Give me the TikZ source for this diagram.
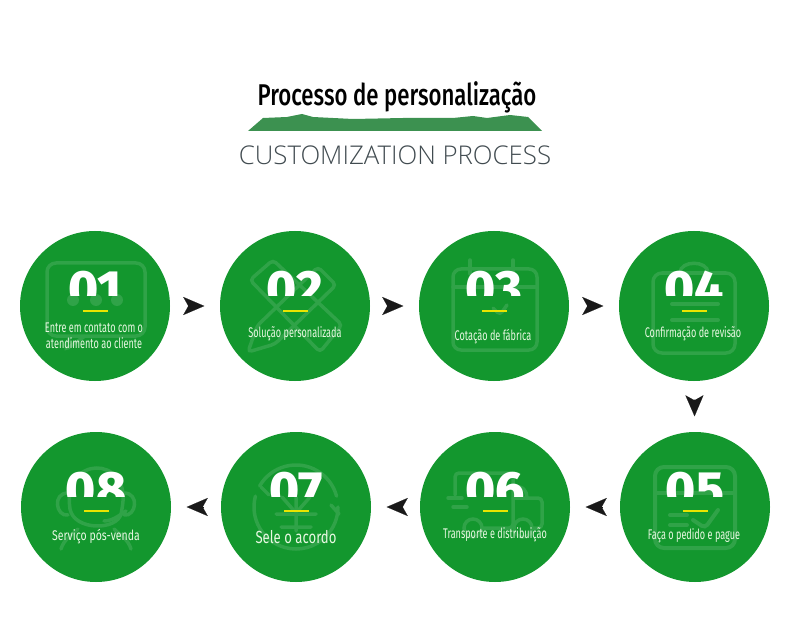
\documentclass[tikz,border=0pt]{standalone}
\usepackage{fontspec}
\usetikzlibrary{arrows.meta}
\setmainfont{Fira Sans}
\newfontfamily\condfont[FakeStretch=0.65]{Fira Sans}
\newfontfamily\widefont[FakeStretch=0.75]{Fira Sans}
\newfontfamily\titlefont[FakeStretch=0.74]{Fira Sans Medium}
\newfontfamily\numfont{Fira Sans ExtraBold}
\newfontfamily\subfont{Open Sans Light}
\definecolor{stepgreen}{HTML}{13972E}
\definecolor{iconline}{HTML}{30A348}
\definecolor{ridgegreen}{HTML}{3C9150}
\definecolor{barline}{HTML}{E9E400}
\definecolor{labeltext}{HTML}{E8F8E2}
\definecolor{subtext}{HTML}{414B50}
\tikzset{
    stepcircle/.style={circle,fill=stepgreen,minimum size=150pt,inner sep=0},
    numtext/.style={text=white,font=\numfont\fontsize{51}{51}\selectfont,inner sep=0,anchor=base},
    labtext/.style={text=labeltext,font=\condfont\fontsize{14}{16}\selectfont,align=center,inner sep=0},
    icon/.style={draw=iconline,line width=3.5pt,rounded corners=4pt,line cap=round},
    flowarrow/.style={-{Stealth[length=21pt,width=18pt,inset=5pt]},draw=black!90,line width=0.1pt,shorten <=18pt,shorten >=15.5pt},
}
\begin{document}
\begin{tikzpicture}[x=1pt,y=-1pt]
        \useasboundingbox (0,0) rectangle (790,631);
        % title
        \fill[ridgegreen] (248,131) -- (263,118) -- (287,117) -- (302,114) -- (313,117) -- (353,119)
            -- (403,118) -- (453,118) -- (473,116) -- (487,118) -- (510,115) -- (528,117) -- (542,131) -- cycle;
        \node[inner sep=0,font=\titlefont\fontsize{30}{30}\selectfont] (title) at (397,97.5) {Processo de personalização};
        \node[inner sep=0,text=subtext,font=\subfont\fontsize{25.8}{26}\selectfont] (subtitle) at (395,155) {CUSTOMIZATION PROCESS};
        % circles
        \foreach \id/\cx/\cy in {1/95/306,2/295/306,3/494/306,4/694/306,5/695/507,6/495/507,7/296/507,8/96/507}
            \node[stepcircle] (s\id) at (\cx,\cy) {};
        % icons
        \begin{scope}[shift={(s1)}]
            \draw[icon,rounded corners=9pt] (-48,-43) rectangle (50,30);
            \draw[icon] (-25,30) -- (-30,44) -- (-10,30);
            \fill[iconline] (-22,-6) circle (6pt) (1,-6) circle (6pt) (22,-6) circle (6pt);
        \end{scope}
        \begin{scope}[shift={(s2)}]
            \draw[icon] (-47,46) -- (-38,20) -- (23,-39) -- (41,-21) -- (-20,38) -- cycle;
            \draw[icon] (-45,-26) -- (-22,-46) -- (47,19) -- (25,46) -- cycle;
        \end{scope}
        \begin{scope}[shift={(s3)}]
            \draw[icon,rounded corners=8pt] (-41,-37) rectangle (43,44);
            \draw[icon] (-41,-19) -- (43,-19);
            \draw[icon] (-24,-46) -- (-24,-32) (19,-46) -- (19,-32);
            \draw[icon] (-1,2) -- (6,9) -- (13,-1);
        \end{scope}
        \begin{scope}[shift={(s4)}]
            \draw[icon,rounded corners=9pt] (-41,-33) rectangle (41,47);
            \draw[icon] (-14,-33) .. controls (-14,-46) and (14,-46) .. (14,-33);
            \draw[icon,line width=4pt] (-22,-2) -- (24,-2) (-22,14) -- (24,14);
        \end{scope}
        \begin{scope}[shift={(s5)}]
            \draw[icon,rounded corners=9pt,line width=4pt] (-40,-40) rectangle (40,41);
            \draw[icon,line width=4pt] (-40,-14) -- (40,-14);
            \draw[icon,line width=4pt] (-2,13) -- (10,21) -- (23,3);
            \draw[icon,line width=4pt] (-25,8) -- (-8,8) (-25,18) -- (-8,18);
        \end{scope}
        \begin{scope}[shift={(s6)}]
            \draw[icon] (-40,-12) -- (-40,-34) -- (18,-34) -- (18,21) -- (-13,21);
            \draw[icon] (18,-9) -- (47,-9) -- (47,21) -- (37,21);
            \draw[icon] (-47,-9) -- (-33,-9) (-42,0) -- (-28,0);
            \draw[icon] (-22,21) circle (9pt) (28,21) circle (9pt);
            \draw[icon] (18,-20) .. controls (28,-22) and (32,-16) .. (32,-9);
        \end{scope}
        \begin{scope}[shift={(s7)}]
            \draw[icon] (165:42pt) arc (165:360:42pt);
            \draw[icon] (15:42pt) arc (15:150:42pt);
            \draw[icon] (-35,-20) -- (-27,-12) (43,7) -- (35,-2) (-20,7) -- (20,7) (0,-10) -- (0,24) (-15,20) -- (15,20);
            \draw[icon] (-14,-10) -- (0,6) -- (14,-10);
        \end{scope}
        \begin{scope}[shift={(s8)}]
            \draw[icon] (-26,2) .. controls (-34,-52) and (34,-52) .. (26,2) .. controls (22,24) and (-22,24) .. (-26,2);
            \draw[icon] (-28,-14) .. controls (-44,-14) and (-40,10) .. (-28,8) (28,-14) .. controls (44,-14) and (40,10) .. (28,8);
            \draw[icon] (8,14) .. controls (18,14) and (26,6) .. (30,4);
            \draw[icon] (-35,42) .. controls (-32,32) and (-24,28) .. (-18,22) (35,42) .. controls (32,32) and (24,28) .. (18,22);
        \end{scope}
        % numbers, cut off above the bar
        \foreach \id/\num in {1/01,2/02,3/03,4/04,5/05,6/06,7/07,8/08}{
            \begin{scope}[shift={(s\id)}]
                \clip (-50,-50) rectangle (50,-11);
                \node[numtext] (n\id) at (0,0) {\num};
            \end{scope}
        }
        % bars
        \foreach \id/\dy in {1/5,2/5,3/5,4/5,5/4,6/4,7/4,8/4}{
            \begin{scope}[shift={(s\id)}]
                \coordinate (bl\id) at (-12,\dy);
                \coordinate (br\id) at (13,\dy);
            \end{scope}
            \draw[barline,line width=2pt] (bl\id) -- (br\id);
        }
        % labels
        \foreach \id/\dx/\dy/\lab in {1/-1/29.5/{Entre em contato com o\\atendimento ao cliente},2/0/28/Solução personalizada,
            3/-1/31/Cotação de fábrica,4/-1/28/Confirmação de revisão,5/-1/29/Faça o pedido e pague,
            6/0/28/Transporte e distribuição}{
            \begin{scope}[shift={(s\id)}]
                \node[labtext] (t\id) at (\dx,\dy) {\lab};
            \end{scope}
        }
        \node[labtext,font=\widefont\fontsize{14}{16}\selectfont] (t8) at ([yshift=-30pt]s8) {Serviço pós-venda};
        \node[labtext,font=\widefont\fontsize{17.5}{18}\selectfont] (t7) at ([yshift=-30pt]s7) {Sele o acordo};
        % arrows
        \foreach \a/\b in {1/2,2/3,3/4,4/5,5/6,6/7,7/8}
            \draw[flowarrow] (s\a) -- (s\b);
\end{tikzpicture}
\end{document}
